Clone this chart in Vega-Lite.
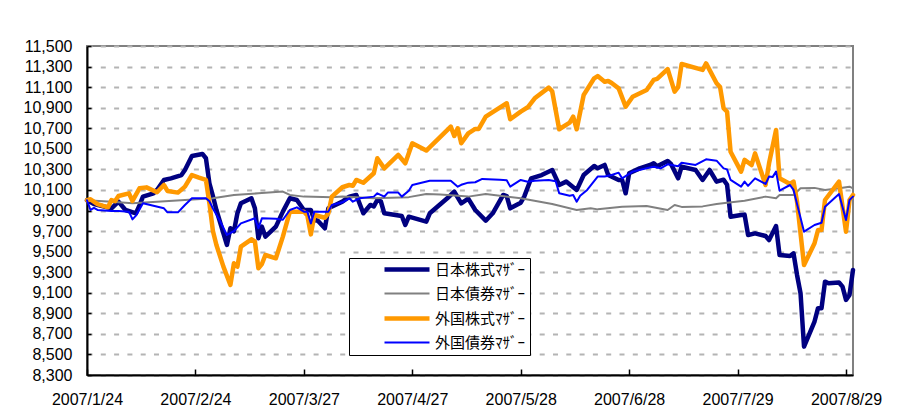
{
  "$schema": "https://vega.github.io/schema/vega-lite/v6.json",
  "width": 766,
  "height": 329,
  "autosize": {"type": "none"},
  "padding": {"left": 87, "top": 46, "right": 48, "bottom": 41},
  "background": "white",
  "config": {
    "view": {"stroke": "#808080", "strokeWidth": 2},
    "font": "Liberation Sans"
  },
  "data": {"values": [
    {"series":"日本株式ﾏｻﾞｰ","date":"2007/1/24","value":10000},
    {"series":"日本株式ﾏｻﾞｰ","date":"2007/1/26","value":9963},
    {"series":"日本株式ﾏｻﾞｰ","date":"2007/1/31","value":9921},
    {"series":"日本株式ﾏｻﾞｰ","date":"2007/2/2","value":9986},
    {"series":"日本株式ﾏｻﾞｰ","date":"2007/2/4","value":9905},
    {"series":"日本株式ﾏｻﾞｰ","date":"2007/2/7","value":9873},
    {"series":"日本株式ﾏｻﾞｰ","date":"2007/2/8","value":9950},
    {"series":"日本株式ﾏｻﾞｰ","date":"2007/2/9","value":10035},
    {"series":"日本株式ﾏｻﾞｰ","date":"2007/2/12","value":10067},
    {"series":"日本株式ﾏｻﾞｰ","date":"2007/2/13","value":10100},
    {"series":"日本株式ﾏｻﾞｰ","date":"2007/2/15","value":10197},
    {"series":"日本株式ﾏｻﾞｰ","date":"2007/2/17","value":10213},
    {"series":"日本株式ﾏｻﾞｰ","date":"2007/2/20","value":10245},
    {"series":"日本株式ﾏｻﾞｰ","date":"2007/2/21","value":10294},
    {"series":"日本株式ﾏｻﾞｰ","date":"2007/2/23","value":10430},
    {"series":"日本株式ﾏｻﾞｰ","date":"2007/2/26","value":10450},
    {"series":"日本株式ﾏｻﾞｰ","date":"2007/2/27","value":10408},
    {"series":"日本株式ﾏｻﾞｰ","date":"2007/2/28","value":10165},
    {"series":"日本株式ﾏｻﾞｰ","date":"2007/3/1","value":10040},
    {"series":"日本株式ﾏｻﾞｰ","date":"2007/3/2","value":9905},
    {"series":"日本株式ﾏｻﾞｰ","date":"2007/3/5","value":9565},
    {"series":"日本株式ﾏｻﾞｰ","date":"2007/3/6","value":9727},
    {"series":"日本株式ﾏｻﾞｰ","date":"2007/3/7","value":9697},
    {"series":"日本株式ﾏｻﾞｰ","date":"2007/3/8","value":9873},
    {"series":"日本株式ﾏｻﾞｰ","date":"2007/3/9","value":9970},
    {"series":"日本株式ﾏｻﾞｰ","date":"2007/3/12","value":10019},
    {"series":"日本株式ﾏｻﾞｰ","date":"2007/3/13","value":9921},
    {"series":"日本株式ﾏｻﾞｰ","date":"2007/3/14","value":9630},
    {"series":"日本株式ﾏｻﾞｰ","date":"2007/3/15","value":9743},
    {"series":"日本株式ﾏｻﾞｰ","date":"2007/3/16","value":9646},
    {"series":"日本株式ﾏｻﾞｰ","date":"2007/3/19","value":9743},
    {"series":"日本株式ﾏｻﾞｰ","date":"2007/3/21","value":9889},
    {"series":"日本株式ﾏｻﾞｰ","date":"2007/3/23","value":10019},
    {"series":"日本株式ﾏｻﾞｰ","date":"2007/3/25","value":10002},
    {"series":"日本株式ﾏｻﾞｰ","date":"2007/3/27","value":9905},
    {"series":"日本株式ﾏｻﾞｰ","date":"2007/3/29","value":9905},
    {"series":"日本株式ﾏｻﾞｰ","date":"2007/3/30","value":9808},
    {"series":"日本株式ﾏｻﾞｰ","date":"2007/3/31","value":9800},
    {"series":"日本株式ﾏｻﾞｰ","date":"2007/4/2","value":9727},
    {"series":"日本株式ﾏｻﾞｰ","date":"2007/4/3","value":9921},
    {"series":"日本株式ﾏｻﾞｰ","date":"2007/4/5","value":9954},
    {"series":"日本株式ﾏｻﾞｰ","date":"2007/4/7","value":9986},
    {"series":"日本株式ﾏｻﾞｰ","date":"2007/4/9","value":10035},
    {"series":"日本株式ﾏｻﾞｰ","date":"2007/4/11","value":10051},
    {"series":"日本株式ﾏｻﾞｰ","date":"2007/4/13","value":9873},
    {"series":"日本株式ﾏｻﾞｰ","date":"2007/4/15","value":9954},
    {"series":"日本株式ﾏｻﾞｰ","date":"2007/4/16","value":9940},
    {"series":"日本株式ﾏｻﾞｰ","date":"2007/4/17","value":10002},
    {"series":"日本株式ﾏｻﾞｰ","date":"2007/4/18","value":9990},
    {"series":"日本株式ﾏｻﾞｰ","date":"2007/4/19","value":9873},
    {"series":"日本株式ﾏｻﾞｰ","date":"2007/4/24","value":9846},
    {"series":"日本株式ﾏｻﾞｰ","date":"2007/4/25","value":9759},
    {"series":"日本株式ﾏｻﾞｰ","date":"2007/4/26","value":9840},
    {"series":"日本株式ﾏｻﾞｰ","date":"2007/5/1","value":9791},
    {"series":"日本株式ﾏｻﾞｰ","date":"2007/5/2","value":9873},
    {"series":"日本株式ﾏｻﾞｰ","date":"2007/5/7","value":10019},
    {"series":"日本株式ﾏｻﾞｰ","date":"2007/5/9","value":10084},
    {"series":"日本株式ﾏｻﾞｰ","date":"2007/5/11","value":9970},
    {"series":"日本株式ﾏｻﾞｰ","date":"2007/5/13","value":10015},
    {"series":"日本株式ﾏｻﾞｰ","date":"2007/5/15","value":9905},
    {"series":"日本株式ﾏｻﾞｰ","date":"2007/5/18","value":9801},
    {"series":"日本株式ﾏｻﾞｰ","date":"2007/5/20","value":9873},
    {"series":"日本株式ﾏｻﾞｰ","date":"2007/5/23","value":10051},
    {"series":"日本株式ﾏｻﾞｰ","date":"2007/5/24","value":10040},
    {"series":"日本株式ﾏｻﾞｰ","date":"2007/5/25","value":9921},
    {"series":"日本株式ﾏｻﾞｰ","date":"2007/5/28","value":9976},
    {"series":"日本株式ﾏｻﾞｰ","date":"2007/5/29","value":10035},
    {"series":"日本株式ﾏｻﾞｰ","date":"2007/5/31","value":10213},
    {"series":"日本株式ﾏｻﾞｰ","date":"2007/6/3","value":10245},
    {"series":"日本株式ﾏｻﾞｰ","date":"2007/6/6","value":10294},
    {"series":"日本株式ﾏｻﾞｰ","date":"2007/6/8","value":10148},
    {"series":"日本株式ﾏｻﾞｰ","date":"2007/6/10","value":10181},
    {"series":"日本株式ﾏｻﾞｰ","date":"2007/6/13","value":10100},
    {"series":"日本株式ﾏｻﾞｰ","date":"2007/6/15","value":10245},
    {"series":"日本株式ﾏｻﾞｰ","date":"2007/6/18","value":10333},
    {"series":"日本株式ﾏｻﾞｰ","date":"2007/6/19","value":10310},
    {"series":"日本株式ﾏｻﾞｰ","date":"2007/6/21","value":10343},
    {"series":"日本株式ﾏｻﾞｰ","date":"2007/6/22","value":10245},
    {"series":"日本株式ﾏｻﾞｰ","date":"2007/6/25","value":10197},
    {"series":"日本株式ﾏｻﾞｰ","date":"2007/6/26","value":10197},
    {"series":"日本株式ﾏｻﾞｰ","date":"2007/6/27","value":10067},
    {"series":"日本株式ﾏｻﾞｰ","date":"2007/6/28","value":10262},
    {"series":"日本株式ﾏｻﾞｰ","date":"2007/7/1","value":10310},
    {"series":"日本株式ﾏｻﾞｰ","date":"2007/7/4","value":10343},
    {"series":"日本株式ﾏｻﾞｰ","date":"2007/7/5","value":10360},
    {"series":"日本株式ﾏｻﾞｰ","date":"2007/7/6","value":10330},
    {"series":"日本株式ﾏｻﾞｰ","date":"2007/7/9","value":10382},
    {"series":"日本株式ﾏｻﾞｰ","date":"2007/7/10","value":10350},
    {"series":"日本株式ﾏｻﾞｰ","date":"2007/7/12","value":10213},
    {"series":"日本株式ﾏｻﾞｰ","date":"2007/7/13","value":10327},
    {"series":"日本株式ﾏｻﾞｰ","date":"2007/7/17","value":10294},
    {"series":"日本株式ﾏｻﾞｰ","date":"2007/7/19","value":10197},
    {"series":"日本株式ﾏｻﾞｰ","date":"2007/7/21","value":10294},
    {"series":"日本株式ﾏｻﾞｰ","date":"2007/7/23","value":10181},
    {"series":"日本株式ﾏｻﾞｰ","date":"2007/7/25","value":10200},
    {"series":"日本株式ﾏｻﾞｰ","date":"2007/7/26","value":10150},
    {"series":"日本株式ﾏｻﾞｰ","date":"2007/7/27","value":9840},
    {"series":"日本株式ﾏｻﾞｰ","date":"2007/7/30","value":9856},
    {"series":"日本株式ﾏｻﾞｰ","date":"2007/7/31","value":9860},
    {"series":"日本株式ﾏｻﾞｰ","date":"2007/8/1","value":9662},
    {"series":"日本株式ﾏｻﾞｰ","date":"2007/8/3","value":9678},
    {"series":"日本株式ﾏｻﾞｰ","date":"2007/8/6","value":9652},
    {"series":"日本株式ﾏｻﾞｰ","date":"2007/8/7","value":9613},
    {"series":"日本株式ﾏｻﾞｰ","date":"2007/8/9","value":9749},
    {"series":"日本株式ﾏｻﾞｰ","date":"2007/8/10","value":9467},
    {"series":"日本株式ﾏｻﾞｰ","date":"2007/8/13","value":9457},
    {"series":"日本株式ﾏｻﾞｰ","date":"2007/8/14","value":9483},
    {"series":"日本株式ﾏｻﾞｰ","date":"2007/8/15","value":9273},
    {"series":"日本株式ﾏｻﾞｰ","date":"2007/8/16","value":9095},
    {"series":"日本株式ﾏｻﾞｰ","date":"2007/8/17","value":8576},
    {"series":"日本株式ﾏｻﾞｰ","date":"2007/8/20","value":8820},
    {"series":"日本株式ﾏｻﾞｰ","date":"2007/8/21","value":8950},
    {"series":"日本株式ﾏｻﾞｰ","date":"2007/8/22","value":8950},
    {"series":"日本株式ﾏｻﾞｰ","date":"2007/8/23","value":9208},
    {"series":"日本株式ﾏｻﾞｰ","date":"2007/8/24","value":9192},
    {"series":"日本株式ﾏｻﾞｰ","date":"2007/8/27","value":9200},
    {"series":"日本株式ﾏｻﾞｰ","date":"2007/8/28","value":9159},
    {"series":"日本株式ﾏｻﾞｰ","date":"2007/8/29","value":9030},
    {"series":"日本株式ﾏｻﾞｰ","date":"2007/8/30","value":9078},
    {"series":"日本株式ﾏｻﾞｰ","date":"2007/8/31","value":9322},

    {"series":"日本債券ﾏｻﾞｰ","date":"2007/1/24","value":10000},
    {"series":"日本債券ﾏｻﾞｰ","date":"2007/1/31","value":9985},
    {"series":"日本債券ﾏｻﾞｰ","date":"2007/2/6","value":9970},
    {"series":"日本債券ﾏｻﾞｰ","date":"2007/2/13","value":9985},
    {"series":"日本債券ﾏｻﾞｰ","date":"2007/2/21","value":10002},
    {"series":"日本債券ﾏｻﾞｰ","date":"2007/3/1","value":10019},
    {"series":"日本債券ﾏｻﾞｰ","date":"2007/3/7","value":10051},
    {"series":"日本債券ﾏｻﾞｰ","date":"2007/3/14","value":10067},
    {"series":"日本債券ﾏｻﾞｰ","date":"2007/3/21","value":10084},
    {"series":"日本債券ﾏｻﾞｰ","date":"2007/3/23","value":10051},
    {"series":"日本債券ﾏｻﾞｰ","date":"2007/3/27","value":10035},
    {"series":"日本債券ﾏｻﾞｰ","date":"2007/4/4","value":10030},
    {"series":"日本債券ﾏｻﾞｰ","date":"2007/4/7","value":10035},
    {"series":"日本債券ﾏｻﾞｰ","date":"2007/4/16","value":10019},
    {"series":"日本債券ﾏｻﾞｰ","date":"2007/4/26","value":10030},
    {"series":"日本債券ﾏｻﾞｰ","date":"2007/5/1","value":10060},
    {"series":"日本債券ﾏｻﾞｰ","date":"2007/5/5","value":10055},
    {"series":"日本債券ﾏｻﾞｰ","date":"2007/5/13","value":10035},
    {"series":"日本債券ﾏｻﾞｰ","date":"2007/5/18","value":10060},
    {"series":"日本債券ﾏｻﾞｰ","date":"2007/5/28","value":10019},
    {"series":"日本債券ﾏｻﾞｰ","date":"2007/6/6","value":9963},
    {"series":"日本債券ﾏｻﾞｰ","date":"2007/6/13","value":9905},
    {"series":"日本債券ﾏｻﾞｰ","date":"2007/6/17","value":9921},
    {"series":"日本債券ﾏｻﾞｰ","date":"2007/6/19","value":9911},
    {"series":"日本債券ﾏｻﾞｰ","date":"2007/6/26","value":9937},
    {"series":"日本債券ﾏｻﾞｰ","date":"2007/7/3","value":9944},
    {"series":"日本債券ﾏｻﾞｰ","date":"2007/7/9","value":9905},
    {"series":"日本債券ﾏｻﾞｰ","date":"2007/7/11","value":9954},
    {"series":"日本債券ﾏｻﾞｰ","date":"2007/7/13","value":9935},
    {"series":"日本債券ﾏｻﾞｰ","date":"2007/7/19","value":9940},
    {"series":"日本債券ﾏｻﾞｰ","date":"2007/7/23","value":9963},
    {"series":"日本債券ﾏｻﾞｰ","date":"2007/7/26","value":9976},
    {"series":"日本債券ﾏｻﾞｰ","date":"2007/7/31","value":9995},
    {"series":"日本債券ﾏｻﾞｰ","date":"2007/8/6","value":10035},
    {"series":"日本債券ﾏｻﾞｰ","date":"2007/8/9","value":10020},
    {"series":"日本債券ﾏｻﾞｰ","date":"2007/8/10","value":10051},
    {"series":"日本債券ﾏｻﾞｰ","date":"2007/8/14","value":10051},
    {"series":"日本債券ﾏｻﾞｰ","date":"2007/8/16","value":10116},
    {"series":"日本債券ﾏｻﾞｰ","date":"2007/8/20","value":10120},
    {"series":"日本債券ﾏｻﾞｰ","date":"2007/8/23","value":10100},
    {"series":"日本債券ﾏｻﾞｰ","date":"2007/8/27","value":10116},
    {"series":"日本債券ﾏｻﾞｰ","date":"2007/8/30","value":10132},
    {"series":"日本債券ﾏｻﾞｰ","date":"2007/8/31","value":10116},

    {"series":"外国株式ﾏｻﾞｰ","date":"2007/1/24","value":10000},
    {"series":"外国株式ﾏｻﾞｰ","date":"2007/1/25","value":10009},
    {"series":"外国株式ﾏｻﾞｰ","date":"2007/1/27","value":9963},
    {"series":"外国株式ﾏｻﾞｰ","date":"2007/1/30","value":9931},
    {"series":"外国株式ﾏｻﾞｰ","date":"2007/1/31","value":10002},
    {"series":"外国株式ﾏｻﾞｰ","date":"2007/2/1","value":9990},
    {"series":"外国株式ﾏｻﾞｰ","date":"2007/2/2","value":10041},
    {"series":"外国株式ﾏｻﾞｰ","date":"2007/2/5","value":10067},
    {"series":"外国株式ﾏｻﾞｰ","date":"2007/2/6","value":9993},
    {"series":"外国株式ﾏｻﾞｰ","date":"2007/2/8","value":10116},
    {"series":"外国株式ﾏｻﾞｰ","date":"2007/2/10","value":10125},
    {"series":"外国株式ﾏｻﾞｰ","date":"2007/2/13","value":10077},
    {"series":"外国株式ﾏｻﾞｰ","date":"2007/2/15","value":10148},
    {"series":"外国株式ﾏｻﾞｰ","date":"2007/2/16","value":10090},
    {"series":"外国株式ﾏｻﾞｰ","date":"2007/2/19","value":10074},
    {"series":"外国株式ﾏｻﾞｰ","date":"2007/2/21","value":10132},
    {"series":"外国株式ﾏｻﾞｰ","date":"2007/2/23","value":10245},
    {"series":"外国株式ﾏｻﾞｰ","date":"2007/2/25","value":10220},
    {"series":"外国株式ﾏｻﾞｰ","date":"2007/2/27","value":10197},
    {"series":"外国株式ﾏｻﾞｰ","date":"2007/2/28","value":9970},
    {"series":"外国株式ﾏｻﾞｰ","date":"2007/3/1","value":9700},
    {"series":"外国株式ﾏｻﾞｰ","date":"2007/3/2","value":9565},
    {"series":"外国株式ﾏｻﾞｰ","date":"2007/3/4","value":9354},
    {"series":"外国株式ﾏｻﾞｰ","date":"2007/3/6","value":9176},
    {"series":"外国株式ﾏｻﾞｰ","date":"2007/3/7","value":9386},
    {"series":"外国株式ﾏｻﾞｰ","date":"2007/3/8","value":9354},
    {"series":"外国株式ﾏｻﾞｰ","date":"2007/3/9","value":9549},
    {"series":"外国株式ﾏｻﾞｰ","date":"2007/3/12","value":9620},
    {"series":"外国株式ﾏｻﾞｰ","date":"2007/3/13","value":9600},
    {"series":"外国株式ﾏｻﾞｰ","date":"2007/3/14","value":9338},
    {"series":"外国株式ﾏｻﾞｰ","date":"2007/3/15","value":9380},
    {"series":"外国株式ﾏｻﾞｰ","date":"2007/3/16","value":9467},
    {"series":"外国株式ﾏｻﾞｰ","date":"2007/3/19","value":9435},
    {"series":"外国株式ﾏｻﾞｰ","date":"2007/3/21","value":9646},
    {"series":"外国株式ﾏｻﾞｰ","date":"2007/3/23","value":9889},
    {"series":"外国株式ﾏｻﾞｰ","date":"2007/3/27","value":9889},
    {"series":"外国株式ﾏｻﾞｰ","date":"2007/3/28","value":9850},
    {"series":"外国株式ﾏｻﾞｰ","date":"2007/3/29","value":9668},
    {"series":"外国株式ﾏｻﾞｰ","date":"2007/3/30","value":9856},
    {"series":"外国株式ﾏｻﾞｰ","date":"2007/4/2","value":9830},
    {"series":"外国株式ﾏｻﾞｰ","date":"2007/4/3","value":9873},
    {"series":"外国株式ﾏｻﾞｰ","date":"2007/4/4","value":10035},
    {"series":"外国株式ﾏｻﾞｰ","date":"2007/4/7","value":10126},
    {"series":"外国株式ﾏｻﾞｰ","date":"2007/4/9","value":10148},
    {"series":"外国株式ﾏｻﾞｰ","date":"2007/4/10","value":10140},
    {"series":"外国株式ﾏｻﾞｰ","date":"2007/4/11","value":10197},
    {"series":"外国株式ﾏｻﾞｰ","date":"2007/4/13","value":10170},
    {"series":"外国株式ﾏｻﾞｰ","date":"2007/4/16","value":10262},
    {"series":"外国株式ﾏｻﾞｰ","date":"2007/4/17","value":10408},
    {"series":"外国株式ﾏｻﾞｰ","date":"2007/4/19","value":10310},
    {"series":"外国株式ﾏｻﾞｰ","date":"2007/4/23","value":10440},
    {"series":"外国株式ﾏｻﾞｰ","date":"2007/4/25","value":10359},
    {"series":"外国株式ﾏｻﾞｰ","date":"2007/4/27","value":10554},
    {"series":"外国株式ﾏｻﾞｰ","date":"2007/5/1","value":10483},
    {"series":"外国株式ﾏｻﾞｰ","date":"2007/5/8","value":10716},
    {"series":"外国株式ﾏｻﾞｰ","date":"2007/5/9","value":10625},
    {"series":"外国株式ﾏｻﾞｰ","date":"2007/5/10","value":10700},
    {"series":"外国株式ﾏｻﾞｰ","date":"2007/5/11","value":10554},
    {"series":"外国株式ﾏｻﾞｰ","date":"2007/5/13","value":10650},
    {"series":"外国株式ﾏｻﾞｰ","date":"2007/5/15","value":10693},
    {"series":"外国株式ﾏｻﾞｰ","date":"2007/5/16","value":10693},
    {"series":"外国株式ﾏｻﾞｰ","date":"2007/5/18","value":10813},
    {"series":"外国株式ﾏｻﾞｰ","date":"2007/5/21","value":10878},
    {"series":"外国株式ﾏｻﾞｰ","date":"2007/5/24","value":10943},
    {"series":"外国株式ﾏｻﾞｰ","date":"2007/5/25","value":10787},
    {"series":"外国株式ﾏｻﾞｰ","date":"2007/5/28","value":10862},
    {"series":"外国株式ﾏｻﾞｰ","date":"2007/5/30","value":10904},
    {"series":"外国株式ﾏｻﾞｰ","date":"2007/6/1","value":10991},
    {"series":"外国株式ﾏｻﾞｰ","date":"2007/6/5","value":11095},
    {"series":"外国株式ﾏｻﾞｰ","date":"2007/6/6","value":11060},
    {"series":"外国株式ﾏｻﾞｰ","date":"2007/6/8","value":10690},
    {"series":"外国株式ﾏｻﾞｰ","date":"2007/6/11","value":10754},
    {"series":"外国株式ﾏｻﾞｰ","date":"2007/6/12","value":10813},
    {"series":"外国株式ﾏｻﾞｰ","date":"2007/6/13","value":10690},
    {"series":"外国株式ﾏｻﾞｰ","date":"2007/6/15","value":11023},
    {"series":"外国株式ﾏｻﾞｰ","date":"2007/6/18","value":11186},
    {"series":"外国株式ﾏｻﾞｰ","date":"2007/6/19","value":11208},
    {"series":"外国株式ﾏｻﾞｰ","date":"2007/6/21","value":11153},
    {"series":"外国株式ﾏｻﾞｰ","date":"2007/6/22","value":11160},
    {"series":"外国株式ﾏｻﾞｰ","date":"2007/6/23","value":11140},
    {"series":"外国株式ﾏｻﾞｰ","date":"2007/6/25","value":11088},
    {"series":"外国株式ﾏｻﾞｰ","date":"2007/6/27","value":10910},
    {"series":"外国株式ﾏｻﾞｰ","date":"2007/6/29","value":11007},
    {"series":"外国株式ﾏｻﾞｰ","date":"2007/7/3","value":11072},
    {"series":"外国株式ﾏｻﾞｰ","date":"2007/7/5","value":11170},
    {"series":"外国株式ﾏｻﾞｰ","date":"2007/7/6","value":11180},
    {"series":"外国株式ﾏｻﾞｰ","date":"2007/7/9","value":11276},
    {"series":"外国株式ﾏｻﾞｰ","date":"2007/7/11","value":11056},
    {"series":"外国株式ﾏｻﾞｰ","date":"2007/7/12","value":11100},
    {"series":"外国株式ﾏｻﾞｰ","date":"2007/7/13","value":11325},
    {"series":"外国株式ﾏｻﾞｰ","date":"2007/7/19","value":11267},
    {"series":"外国株式ﾏｻﾞｰ","date":"2007/7/20","value":11331},
    {"series":"外国株式ﾏｻﾞｰ","date":"2007/7/23","value":11137},
    {"series":"外国株式ﾏｻﾞｰ","date":"2007/7/24","value":11100},
    {"series":"外国株式ﾏｻﾞｰ","date":"2007/7/25","value":10895},
    {"series":"外国株式ﾏｻﾞｰ","date":"2007/7/26","value":10860},
    {"series":"外国株式ﾏｻﾞｰ","date":"2007/7/27","value":10472},
    {"series":"外国株式ﾏｻﾞｰ","date":"2007/7/30","value":10278},
    {"series":"外国株式ﾏｻﾞｰ","date":"2007/7/31","value":10392},
    {"series":"外国株式ﾏｻﾞｰ","date":"2007/8/2","value":10342},
    {"series":"外国株式ﾏｻﾞｰ","date":"2007/8/3","value":10456},
    {"series":"外国株式ﾏｻﾞｰ","date":"2007/8/6","value":10148},
    {"series":"外国株式ﾏｻﾞｰ","date":"2007/8/7","value":10359},
    {"series":"外国株式ﾏｻﾞｰ","date":"2007/8/9","value":10683},
    {"series":"外国株式ﾏｻﾞｰ","date":"2007/8/10","value":10213},
    {"series":"外国株式ﾏｻﾞｰ","date":"2007/8/13","value":10158},
    {"series":"外国株式ﾏｻﾞｰ","date":"2007/8/14","value":10181},
    {"series":"外国株式ﾏｻﾞｰ","date":"2007/8/15","value":9986},
    {"series":"外国株式ﾏｻﾞｰ","date":"2007/8/17","value":9370},
    {"series":"外国株式ﾏｻﾞｰ","date":"2007/8/20","value":9581},
    {"series":"外国株式ﾏｻﾞｰ","date":"2007/8/21","value":9710},
    {"series":"外国株式ﾏｻﾞｰ","date":"2007/8/22","value":9710},
    {"series":"外国株式ﾏｻﾞｰ","date":"2007/8/23","value":10002},
    {"series":"外国株式ﾏｻﾞｰ","date":"2007/8/27","value":10181},
    {"series":"外国株式ﾏｻﾞｰ","date":"2007/8/29","value":9694},
    {"series":"外国株式ﾏｻﾞｰ","date":"2007/8/30","value":10002},
    {"series":"外国株式ﾏｻﾞｰ","date":"2007/8/31","value":10051},

    {"series":"外国債券ﾏｻﾞｰ","date":"2007/1/24","value":10000},
    {"series":"外国債券ﾏｻﾞｰ","date":"2007/1/25","value":9905},
    {"series":"外国債券ﾏｻﾞｰ","date":"2007/1/26","value":9925},
    {"series":"外国債券ﾏｻﾞｰ","date":"2007/1/27","value":9905},
    {"series":"外国債券ﾏｻﾞｰ","date":"2007/1/31","value":9895},
    {"series":"外国債券ﾏｻﾞｰ","date":"2007/2/2","value":9895},
    {"series":"外国債券ﾏｻﾞｰ","date":"2007/2/5","value":9889},
    {"series":"外国債券ﾏｻﾞｰ","date":"2007/2/6","value":9814},
    {"series":"外国債券ﾏｻﾞｰ","date":"2007/2/7","value":9850},
    {"series":"外国債券ﾏｻﾞｰ","date":"2007/2/9","value":9970},
    {"series":"外国債券ﾏｻﾞｰ","date":"2007/2/15","value":9921},
    {"series":"外国債券ﾏｻﾞｰ","date":"2007/2/16","value":9882},
    {"series":"外国債券ﾏｻﾞｰ","date":"2007/2/19","value":9882},
    {"series":"外国債券ﾏｻﾞｰ","date":"2007/2/21","value":9954},
    {"series":"外国債券ﾏｻﾞｰ","date":"2007/2/23","value":10019},
    {"series":"外国債券ﾏｻﾞｰ","date":"2007/2/27","value":10019},
    {"series":"外国債券ﾏｻﾞｰ","date":"2007/2/28","value":9990},
    {"series":"外国債券ﾏｻﾞｰ","date":"2007/3/1","value":9920},
    {"series":"外国債券ﾏｻﾞｰ","date":"2007/3/3","value":9800},
    {"series":"外国債券ﾏｻﾞｰ","date":"2007/3/5","value":9662},
    {"series":"外国債券ﾏｻﾞｰ","date":"2007/3/7","value":9700},
    {"series":"外国債券ﾏｻﾞｰ","date":"2007/3/9","value":9775},
    {"series":"外国債券ﾏｻﾞｰ","date":"2007/3/13","value":9824},
    {"series":"外国債券ﾏｻﾞｰ","date":"2007/3/14","value":9727},
    {"series":"外国債券ﾏｻﾞｰ","date":"2007/3/15","value":9824},
    {"series":"外国債券ﾏｻﾞｰ","date":"2007/3/19","value":9820},
    {"series":"外国債券ﾏｻﾞｰ","date":"2007/3/21","value":9810},
    {"series":"外国債券ﾏｻﾞｰ","date":"2007/3/23","value":9905},
    {"series":"外国債券ﾏｻﾞｰ","date":"2007/3/25","value":9931},
    {"series":"外国債券ﾏｻﾞｰ","date":"2007/3/27","value":9889},
    {"series":"外国債券ﾏｻﾞｰ","date":"2007/3/28","value":9889},
    {"series":"外国債券ﾏｻﾞｰ","date":"2007/3/29","value":9775},
    {"series":"外国債券ﾏｻﾞｰ","date":"2007/3/30","value":9889},
    {"series":"外国債券ﾏｻﾞｰ","date":"2007/4/3","value":9889},
    {"series":"外国債券ﾏｻﾞｰ","date":"2007/4/4","value":9954},
    {"series":"外国債券ﾏｻﾞｰ","date":"2007/4/7","value":9980},
    {"series":"外国債券ﾏｻﾞｰ","date":"2007/4/9","value":10019},
    {"series":"外国債券ﾏｻﾞｰ","date":"2007/4/10","value":9986},
    {"series":"外国債券ﾏｻﾞｰ","date":"2007/4/12","value":10019},
    {"series":"外国債券ﾏｻﾞｰ","date":"2007/4/16","value":10035},
    {"series":"外国債券ﾏｻﾞｰ","date":"2007/4/17","value":10067},
    {"series":"外国債券ﾏｻﾞｰ","date":"2007/4/19","value":10035},
    {"series":"外国債券ﾏｻﾞｰ","date":"2007/4/20","value":10074},
    {"series":"外国債券ﾏｻﾞｰ","date":"2007/4/23","value":10074},
    {"series":"外国債券ﾏｻﾞｰ","date":"2007/4/24","value":10035},
    {"series":"外国債券ﾏｻﾞｰ","date":"2007/4/26","value":10093},
    {"series":"外国債券ﾏｻﾞｰ","date":"2007/4/27","value":10148},
    {"series":"外国債券ﾏｻﾞｰ","date":"2007/5/2","value":10190},
    {"series":"外国債券ﾏｻﾞｰ","date":"2007/5/8","value":10190},
    {"series":"外国債券ﾏｻﾞｰ","date":"2007/5/10","value":10132},
    {"series":"外国債券ﾏｻﾞｰ","date":"2007/5/11","value":10150},
    {"series":"外国債券ﾏｻﾞｰ","date":"2007/5/13","value":10171},
    {"series":"外国債券ﾏｻﾞｰ","date":"2007/5/15","value":10175},
    {"series":"外国債券ﾏｻﾞｰ","date":"2007/5/17","value":10207},
    {"series":"外国債券ﾏｻﾞｰ","date":"2007/5/22","value":10200},
    {"series":"外国債券ﾏｻﾞｰ","date":"2007/5/24","value":10195},
    {"series":"外国債券ﾏｻﾞｰ","date":"2007/5/25","value":10132},
    {"series":"外国債券ﾏｻﾞｰ","date":"2007/5/28","value":10197},
    {"series":"外国債券ﾏｻﾞｰ","date":"2007/5/30","value":10180},
    {"series":"外国債券ﾏｻﾞｰ","date":"2007/6/1","value":10190},
    {"series":"外国債券ﾏｻﾞｰ","date":"2007/6/5","value":10197},
    {"series":"外国債券ﾏｻﾞｰ","date":"2007/6/7","value":10185},
    {"series":"外国債券ﾏｻﾞｰ","date":"2007/6/8","value":10067},
    {"series":"外国債券ﾏｻﾞｰ","date":"2007/6/11","value":10044},
    {"series":"外国債券ﾏｻﾞｰ","date":"2007/6/12","value":10050},
    {"series":"外国債券ﾏｻﾞｰ","date":"2007/6/13","value":9986},
    {"series":"外国債券ﾏｻﾞｰ","date":"2007/6/14","value":10044},
    {"series":"外国債券ﾏｻﾞｰ","date":"2007/6/16","value":10100},
    {"series":"外国債券ﾏｻﾞｰ","date":"2007/6/19","value":10230},
    {"series":"外国債券ﾏｻﾞｰ","date":"2007/6/21","value":10230},
    {"series":"外国債券ﾏｻﾞｰ","date":"2007/6/23","value":10245},
    {"series":"外国債券ﾏｻﾞｰ","date":"2007/6/25","value":10268},
    {"series":"外国債券ﾏｻﾞｰ","date":"2007/6/26","value":10213},
    {"series":"外国債券ﾏｻﾞｰ","date":"2007/6/29","value":10278},
    {"series":"外国債券ﾏｻﾞｰ","date":"2007/7/3","value":10310},
    {"series":"外国債券ﾏｻﾞｰ","date":"2007/7/5","value":10325},
    {"series":"外国債券ﾏｻﾞｰ","date":"2007/7/7","value":10310},
    {"series":"外国債券ﾏｻﾞｰ","date":"2007/7/9","value":10349},
    {"series":"外国債券ﾏｻﾞｰ","date":"2007/7/12","value":10330},
    {"series":"外国債券ﾏｻﾞｰ","date":"2007/7/13","value":10365},
    {"series":"外国債券ﾏｻﾞｰ","date":"2007/7/17","value":10343},
    {"series":"外国債券ﾏｻﾞｰ","date":"2007/7/20","value":10398},
    {"series":"外国債券ﾏｻﾞｰ","date":"2007/7/23","value":10385},
    {"series":"外国債券ﾏｻﾞｰ","date":"2007/7/25","value":10310},
    {"series":"外国債券ﾏｻﾞｰ","date":"2007/7/26","value":10300},
    {"series":"外国債券ﾏｻﾞｰ","date":"2007/7/27","value":10197},
    {"series":"外国債券ﾏｻﾞｰ","date":"2007/7/30","value":10132},
    {"series":"外国債券ﾏｻﾞｰ","date":"2007/7/31","value":10181},
    {"series":"外国債券ﾏｻﾞｰ","date":"2007/8/1","value":10140},
    {"series":"外国債券ﾏｻﾞｰ","date":"2007/8/3","value":10213},
    {"series":"外国債券ﾏｻﾞｰ","date":"2007/8/6","value":10158},
    {"series":"外国債券ﾏｻﾞｰ","date":"2007/8/7","value":10230},
    {"series":"外国債券ﾏｻﾞｰ","date":"2007/8/8","value":10225},
    {"series":"外国債券ﾏｻﾞｰ","date":"2007/8/9","value":10278},
    {"series":"外国債券ﾏｻﾞｰ","date":"2007/8/10","value":10093},
    {"series":"外国債券ﾏｻﾞｰ","date":"2007/8/13","value":10148},
    {"series":"外国債券ﾏｻﾞｰ","date":"2007/8/14","value":10100},
    {"series":"外国債券ﾏｻﾞｰ","date":"2007/8/17","value":9694},
    {"series":"外国債券ﾏｻﾞｰ","date":"2007/8/20","value":9759},
    {"series":"外国債券ﾏｻﾞｰ","date":"2007/8/22","value":9781},
    {"series":"外国債券ﾏｻﾞｰ","date":"2007/8/23","value":9937},
    {"series":"外国債券ﾏｻﾞｰ","date":"2007/8/27","value":10060},
    {"series":"外国債券ﾏｻﾞｰ","date":"2007/8/29","value":9808},
    {"series":"外国債券ﾏｻﾞｰ","date":"2007/8/30","value":10002},
    {"series":"外国債券ﾏｻﾞｰ","date":"2007/8/31","value":10035}
  ]},
  "mark": {"type": "line", "strokeJoin": "round", "strokeCap": "round"},
  "encoding": {
    "x": {
      "field": "date", "type": "temporal",
      "scale": {"domain": [{"year": 2007, "month": 1, "date": 24}, {"year": 2007, "month": 8, "date": 31}]},
      "axis": {
        "title": null, "grid": false,
        "values": [
          {"year": 2007, "month": 1, "date": 24},
          {"year": 2007, "month": 2, "date": 24},
          {"year": 2007, "month": 3, "date": 27},
          {"year": 2007, "month": 4, "date": 27},
          {"year": 2007, "month": 5, "date": 28},
          {"year": 2007, "month": 6, "date": 28},
          {"year": 2007, "month": 7, "date": 29},
          {"year": 2007, "month": 8, "date": 29}
        ],
        "format": "%Y/%-m/%-d",
        "tickSize": -6, "tickColor": "#000000", "tickWidth": 1.5,
        "domainColor": "#000000", "domainWidth": 2,
        "labelFont": "Liberation Sans", "labelFontSize": 16, "labelColor": "#000000",
        "labelPadding": 22, "labelFlush": false, "labelOverlap": false
      }
    },
    "y": {
      "field": "value", "type": "quantitative",
      "scale": {"domain": [8300, 11500], "nice": false, "zero": false},
      "axis": {
        "title": null,
        "values": [8300, 8500, 8700, 8900, 9100, 9300, 9500, 9700, 9900, 10100, 10300, 10500, 10700, 10900, 11100, 11300, 11500],
        "format": ",d",
        "grid": true, "gridColor": "#b4b4b4", "gridDash": [5, 8.3], "gridWidth": 2,
        "tickSize": -4, "tickColor": "#000000", "tickWidth": 1.5,
        "domainColor": "#000000", "domainWidth": 2,
        "labelFont": "Liberation Sans", "labelFontSize": 16, "labelColor": "#000000",
        "labelPadding": 19
      }
    },
    "color": {
      "field": "series", "type": "nominal",
      "scale": {
        "domain": ["日本株式ﾏｻﾞｰ", "日本債券ﾏｻﾞｰ", "外国株式ﾏｻﾞｰ", "外国債券ﾏｻﾞｰ"],
        "range": ["#000080", "#808080", "#FF9900", "#0000FF"]
      },
      "legend": {
        "title": null, "orient": "none", "legendX": 262, "legendY": 212,
        "fillColor": "#ffffff", "strokeColor": "#000000", "padding": 4,
        "symbolType": "M-6,0H6", "symbolSize": 56.25, "symbolOffset": 46.5,
        "labelFont": "Noto Sans CJK JP", "labelFontSize": 15, "labelColor": "#000000",
        "labelOffset": 20.5, "rowPadding": 7
      }
    },
    "strokeWidth": {
      "field": "series", "type": "nominal",
      "scale": {
        "type": "ordinal",
        "domain": ["日本株式ﾏｻﾞｰ", "日本債券ﾏｻﾞｰ", "外国株式ﾏｻﾞｰ", "外国債券ﾏｻﾞｰ"],
        "range": [4.5, 2, 4.5, 2]
      },
      "legend": {
        "title": null, "orient": "none", "legendX": 262, "legendY": 212,
        "fillColor": "#ffffff", "strokeColor": "#000000", "padding": 4,
        "symbolType": "M-6,0H6", "symbolSize": 56.25, "symbolOffset": 46.5,
        "labelFont": "Noto Sans CJK JP", "labelFontSize": 15, "labelColor": "#000000",
        "labelOffset": 20.5, "rowPadding": 7
      }
    }
  }
}
